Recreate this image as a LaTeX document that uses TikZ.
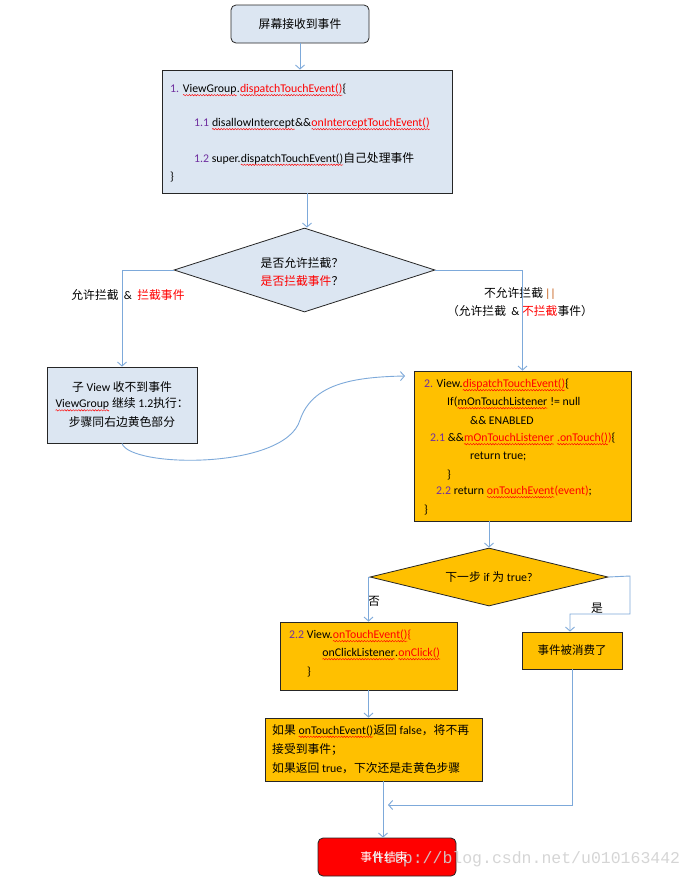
\documentclass[tikz,border=0pt]{standalone}
\usepackage{fontspec}
\setmainfont{Carlito}
\newfontfamily\cjk{Noto Sans CJK SC}
\newfontfamily\wmfont{Liberation Mono}
\usetikzlibrary{arrows.meta,shapes.geometric,decorations.pathmorphing}
\definecolor{lb}{HTML}{DCE6F2}
\definecolor{yl}{HTML}{FFC000}
\definecolor{cn}{HTML}{7DA9DA}
\definecolor{pu}{HTML}{7030A0}
\definecolor{rd}{HTML}{FF0000}
\definecolor{br}{HTML}{C65911}
\newcommand\wv[1]{\tikz[baseline=(wvn.base)]{\node[inner sep=0pt,outer sep=0pt](wvn){#1};\draw[rd,line width=0.45pt,decorate,decoration={snake,amplitude=0.7pt,segment length=2.8pt}] ([yshift=-2.6pt]wvn.base west) -- ([yshift=-2.6pt]wvn.base east);}}
\newcommand\zh[1]{{\cjk #1}}
\tikzset{
  bluebox/.style={draw=black!85, fill=lb, line width=0.8pt, inner sep=0pt},
  yelbox/.style={draw=black!85, fill=yl, line width=0.8pt, inner sep=0pt},
  dia/.style={diamond, draw=black!85, line width=0.8pt, inner sep=0pt, aspect=3},
  txt/.style={anchor=west, inner sep=0pt, font=\fontsize{11.8}{14}\selectfont},
  lbl/.style={inner sep=0pt, font=\fontsize{11.8}{18}\selectfont, align=center},
  conn/.style={draw=cn, line width=0.9pt, -{Straight Barb[length=4pt,width=9pt]}}
}
\begin{document}
\begin{tikzpicture}[x=1pt,y=-1pt]
\useasboundingbox[fill=white] (0,0) rectangle (695,879);

% boxes
\node[bluebox, rounded corners=5pt, minimum width=138pt, minimum height=38pt, font=\fontsize{11.8}{14}\selectfont] (start) at (300,24) {\zh{屏幕接收到事件}};
\node[bluebox, minimum width=290pt, minimum height=123pt] (box1) at (307,131.5) {};
\node[dia, fill=lb, minimum width=261pt, minimum height=84pt] (d1) at (304.5,270) {};
\node[bluebox, minimum width=150pt, minimum height=76pt] (lbox) at (122,405) {};
\node[yelbox, minimum width=217pt, minimum height=150pt] (box2) at (522.5,446) {};
\node[dia, fill=yl, minimum width=238pt, minimum height=58pt] (d2) at (489,577) {};
\node[yelbox, minimum width=177pt, minimum height=68pt] (box22) at (368.5,656) {};
\node[yelbox, minimum width=100pt, minimum height=37pt, font=\fontsize{11.5}{14}\selectfont] (cons) at (572,650.5) {\zh{事件被消费了}};
\node[yelbox, minimum width=217pt, minimum height=63pt] (ifbox) at (373.5,749.5) {};
\node[draw=black!85, fill=rd, line width=0.8pt, rounded corners=5pt, minimum width=138pt, minimum height=38pt] (endb) at (387,857) {};

% watermark
\node[inner sep=0pt, anchor=west, text=black!18, opacity=0.9, font=\wmfont\fontsize{16.5}{18}\selectfont] (wm) at (373,859) {http://blog.csdn.net/u010163442};

\node[inner sep=0pt, text=white, font=\fontsize{11.8}{14}\selectfont] (endt) at (384,857) {\zh{事件结束}};

% left box text
\node[txt, anchor=center] (l1) at (122,387) {\zh{子} View \zh{收不到事件}};
\node[txt, anchor=center] (l2) at (122,404.5) {\wv{ViewGroup} \zh{继续} 1.2\zh{执行：}};
\node[txt, anchor=center] (l3) at (122,422) {\zh{步骤同右边黄色部分}};

% box1 text
\node[txt] (t11) at (170,90) {{\color{pu}1.} \wv{ViewGroup}.\textcolor{rd}{\wv{dispatchTouchEvent()}}\{};
\node[txt] (t12) at (194,124) {{\color{pu}1.1} \wv{disallowIntercept}\&\&\textcolor{rd}{\wv{onInterceptTouchEvent()}}};
\node[txt] (t13) at (194,159) {{\color{pu}1.2} super.\wv{dispatchTouchEvent()}\zh{自己处理事件}};
\node[txt] (t14) at (170,177) {\}};

% diamond 1 text
\node[lbl] (d1t) at (302,272) {\zh{是否允许拦截？}\\\textcolor{rd}{\zh{是否拦截事件}}\zh{？}};

% branch labels
\node[lbl] (ll) at (128,295) {\zh{允许拦截}\ \ \&\ \ \textcolor{rd}{\zh{拦截事件}}};
\node[lbl] (rl) at (520,302) {\zh{不允许拦截}\,\textcolor{br}{||}\\\zh{（允许拦截}\ \ \&\ \textcolor{rd}{\zh{不拦截}}\zh{事件）}};

% box2 text
\node[txt] (t21) at (424,385) {{\color{pu}2.} View.\textcolor{rd}{\wv{dispatchTouchEvent()}}\{};
\node[txt] (t22) at (447,403) {If(\wv{mOnTouchListener} != null};
\node[txt] (t23) at (470,421) {\&\& ENABLED};
\node[txt] (t24) at (430,439) {{\color{pu}2.1} \&\&\textcolor{rd}{\wv{mOnTouchListener}\ \wv{.onTouch()})}\{};
\node[txt] (t25) at (470,457) {return true;};
\node[txt] (t26) at (447,475) {\}};
\node[txt] (t27) at (436,492) {{\color{pu}2.2} return \textcolor{rd}{\wv{onTouchEvent}(event)};};
\node[txt] (t28) at (424,510) {\}};

% diamond 2 text
\node[txt, anchor=center] (d2t) at (489,577) {\zh{下一步} if \zh{为} true?};
\node[lbl] (no) at (374,601) {\zh{否}};
\node[lbl] (yes) at (597,608) {\zh{是}};

% box 2.2 text
\node[txt] (t31) at (289,636) {{\color{pu}2.2} View.\textcolor{rd}{\wv{onTouchEvent()}\{}};
\node[txt] (t32) at (322,654) {\wv{onClickListener}.\textcolor{rd}{\wv{onClick()}}};
\node[txt] (t33) at (307,672) {\}};

% if box text
\node[txt] (t41) at (272,731) {\zh{如果} \wv{onTouchEvent()}\zh{返回} false\zh{，将不再}};
\node[txt] (t42) at (272,749) {\zh{接受到事件；}};
\node[txt] (t43) at (272,768) {\zh{如果返回} true\zh{，下次还是走黄色步骤}};

% helper coordinates
\coordinate (c1) at (300,420);
\coordinate (cend) at (405,376);
\coordinate (rx) at (630,576);
\coordinate (ry) at (630,614);
\coordinate (rz) at (570,614);
\coordinate (mx) at (383,0);
\coordinate (join) at (388,805);

% connectors
\draw[conn] (start.south) -- (start.south |- box1.north);
\draw[conn] (box1.south) -- (box1.south |- d1.north);
\draw[conn] (d1.west) -| (lbox.north);
\draw[conn] (d1.east) -| (box2.north);
\draw[conn] (lbox.south) .. controls (130,468) and (285,470) .. (c1) .. controls (312,385) and (350,377) .. (cend);
\draw[conn] (d2.north |- box2.south) -- (d2.north);
\draw[conn] (d2.west) -| (box22.north);
\draw[conn] (d2.east) -- (rx) -- (ry) -- (rz) -- (cons.north -| rz);
\draw[conn] (box22.south) -- (box22.south |- ifbox.north);
\draw[conn] (cons.south) |- (join);
\draw[conn] (ifbox.south -| mx) -- (endb.north -| mx);
\end{tikzpicture}
\end{document}
